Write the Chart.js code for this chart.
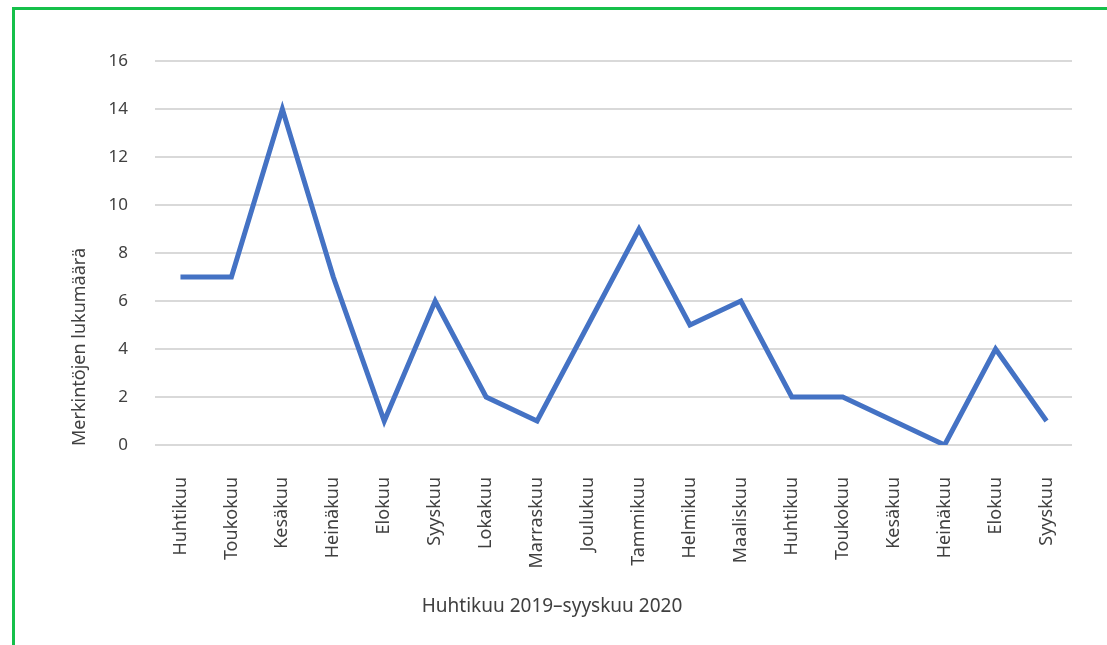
<!DOCTYPE html>
<html>
<head>
<meta charset="utf-8">
<script src="https://cdn.jsdelivr.net/npm/chart.js@4/dist/chart.umd.min.js"></script>
<style>
  html, body { margin: 0; padding: 0; background: #fff; }
  #frame {
    position: absolute; left: 12px; top: 7px; right: 0; bottom: 0;
    border-top: 3px solid #15c04a; border-left: 3px solid #15c04a;
  }
  #wrap { position: absolute; left: 0; top: 0; width: 1107px; height: 645px; }
</style>
</head>
<body>
<div id="frame"></div>
<div id="wrap"><canvas id="c" width="1107" height="645"></canvas></div>
<script>
// months Apr 2019 .. Sep 2020
const months = ["Huhtikuu", "Toukokuu", "Kesäkuu", "Heinäkuu", "Elokuu", "Syyskuu",
  "Lokakuu", "Marraskuu", "Joulukuu", "Tammikuu", "Helmikuu", "Maaliskuu",
  "Huhtikuu", "Toukokuu", "Kesäkuu", "Heinäkuu", "Elokuu", "Syyskuu"];
const counts = [7, 7, 14, 7, 1, 6, 2, 1, 5, 9, 5, 6, 2, 2, 1, 0, 4, 1];
const yTitle = "Merkintöjen lukumäärä";
const xTitle = "Huhtikuu 2019\u2013syyskuu 2020";

const FONT = "'Noto Sans', 'Open Sans', sans-serif";
const TEXT = "#404040";

// axis titles are not centred on the plot in the original, so draw them by hand
const titles = {
  id: "titles",
  afterDraw(chart) {
    const ctx = chart.ctx;
    ctx.save();
    ctx.fillStyle = TEXT;
    ctx.textAlign = "center";
    ctx.textBaseline = "middle";
    ctx.font = "19px " + FONT;
    ctx.fillText(xTitle, 552, 607);
    ctx.font = "18px " + FONT;
    ctx.translate(80, 347);
    ctx.rotate(-Math.PI / 2);
    ctx.fillText(yTitle, 0, 0);
    ctx.restore();
  }
};

new Chart(document.getElementById("c"), {
  type: "line",
  data: {
    labels: months,
    datasets: [{
      data: counts,
      borderColor: "#4472c4",
      borderWidth: 5,
      pointRadius: 0,
      tension: 0,
      fill: false,
    }]
  },
  options: {
    responsive: false,
    animation: false,
    layout: { padding: { top: 61, right: 35, bottom: 0, left: 0 } },
    plugins: { legend: { display: false }, tooltip: { enabled: false } },
    scales: {
      x: {
        offset: true,
        grid: { display: false },
        border: { display: false },
        ticks: {
          color: TEXT, font: { family: FONT, size: 18 },
          maxRotation: 90, minRotation: 90, padding: 24, autoSkip: false,
        },
        afterFit: (s) => { s.height = 200; },
      },
      y: {
        min: 0, max: 16,
        grid: { color: "#d9d9d9", lineWidth: 2, drawTicks: false },
        border: { display: false },
        ticks: { stepSize: 2, color: TEXT, font: { family: FONT, size: 17 }, padding: 27 },
        afterFit: (s) => { s.width = 155; },
      }
    }
  },
  plugins: [titles]
});
</script>
</body>
</html>
